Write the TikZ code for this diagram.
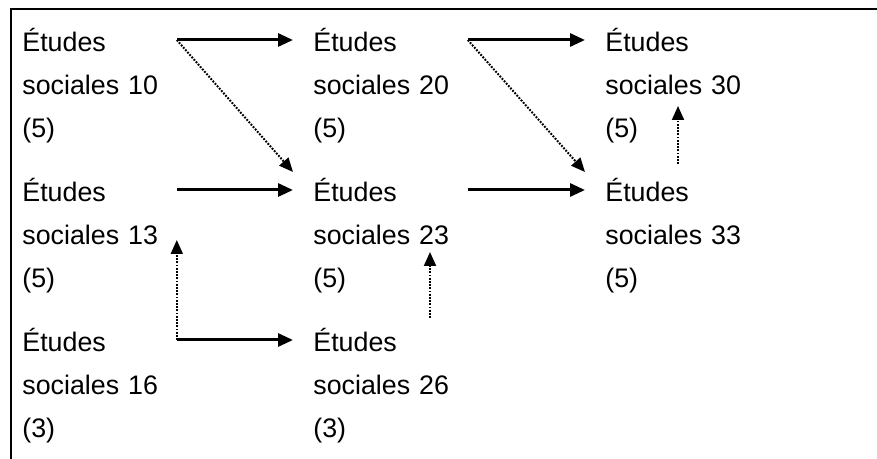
\documentclass[tikz,border=0pt]{standalone}
\usepackage{fontspec}
\setmainfont{Liberation Sans}
\usetikzlibrary{arrows.meta}
\tikzset{every path/.style={black}, course/.style={anchor=north west, align=left, inner sep=0pt, text width=77pt, font=\fontsize{13.4}{21.5}\selectfont},
  solidarrow/.style={line width=1.5pt, -{Triangle[length=7.5pt,width=6.5pt]}},
  dotarrow/.style={line width=1pt, dash pattern=on 0.9pt off 0.7pt, -{Triangle[length=7pt,width=6pt]}}}

\begin{document}
\begin{tikzpicture}[x=0.5pt,y=-0.5pt]
   \useasboundingbox (0,0) rectangle (877,459);
   \draw[line width=1.3pt] (11,459) -- (11,9) -- (877,9);
   \node[course] (s10) at (22,28)  {Études\\sociales 10\\(5)};
   \node[course] (s20) at (313,28) {Études\\sociales 20\\(5)};
   \node[course] (s30) at (605,28) {Études\\sociales 30\\(5)};
   \node[course] (s13) at (22,178)  {Études\\sociales 13\\(5)};
   \node[course] (s23) at (313,178) {Études\\sociales 23\\(5)};
   \node[course] (s33) at (605,178) {Études\\sociales 33\\(5)};
   \node[course] (s16) at (22,328)  {Études\\sociales 16\\(3)};
   \node[course] (s26) at (313,328) {Études\\sociales 26\\(3)};
   \draw[solidarrow] ([yshift=-6pt]s10.north east) -- ([xshift=-10pt,yshift=-6pt]s20.north west);
   \draw[dotarrow]   ([yshift=-6pt]s10.north east) -- ([xshift=-10pt,yshift=3pt]s23.north west);
   \draw[solidarrow] ([yshift=-6pt]s13.north east) -- ([xshift=-10pt,yshift=-6pt]s23.north west);
   \draw[solidarrow] ([yshift=-6pt]s16.north east) -- ([xshift=-10pt,yshift=-6pt]s26.north west);
   \draw[dotarrow]   ([yshift=-6pt]s16.north east) -- ([yshift=-31pt]s13.north east);
   \draw[solidarrow] ([yshift=-6pt]s20.north east) -- ([xshift=-10pt,yshift=-6pt]s30.north west);
   \draw[dotarrow]   ([yshift=-6pt]s20.north east) -- ([xshift=-10pt,yshift=3pt]s33.north west);
   \draw[solidarrow] ([yshift=-6pt]s23.north east) -- ([xshift=-10pt,yshift=-6pt]s33.north west);
   \draw[dotarrow]   ([xshift=58.5pt,yshift=5pt]s26.north west) -- ([xshift=58.5pt,yshift=-37pt]s23.north west);
   \draw[dotarrow]   ([xshift=36.5pt,yshift=7pt]s33.north west) -- ([xshift=36.5pt,yshift=-39pt]s30.north west);
\end{tikzpicture}
\end{document}
